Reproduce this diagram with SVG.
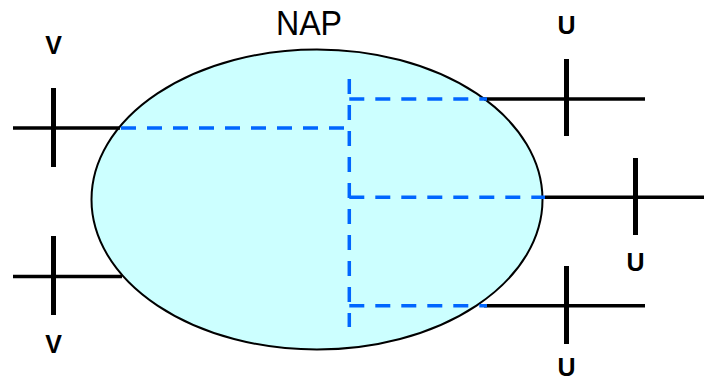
<svg xmlns="http://www.w3.org/2000/svg" width="704" height="379" viewBox="0 0 704 379">
<style>
.lbl{font-family:"Liberation Sans",Arial,sans-serif;font-weight:bold;font-size:25px;fill:#000;text-anchor:middle}
.h{stroke:#000;stroke-width:3.5;fill:none}
.v{stroke:#000;stroke-width:5;fill:none}
.d{stroke:#0066FF;stroke-width:3.5;fill:none;stroke-dasharray:15 11}
</style>
<rect width="704" height="379" fill="#fff"/>
<g id="nap">
<ellipse cx="317" cy="199.5" rx="225.5" ry="150" fill="#CCFFFF" stroke="#000" stroke-width="2"/>
<text x="309" y="35.5" font-family="Liberation Sans,Arial,sans-serif" font-size="35" text-anchor="middle" transform="translate(309 35.5) scale(0.92 1) translate(-309 -35.5)">NAP</text>
</g>
<g id="v1">
<line class="h" x1="13" y1="128" x2="120" y2="128"/>
<line class="v" x1="53.5" y1="88" x2="53.5" y2="167"/>
<text class="lbl" x="53.5" y="54">V</text>
</g>
<g id="v2">
<line class="h" x1="13" y1="276.5" x2="122" y2="276.5"/>
<line class="v" x1="53.5" y1="236" x2="53.5" y2="315"/>
<text class="lbl" x="53.5" y="352.5">V</text>
</g>
<g id="u1">
<line class="h" x1="484" y1="99" x2="645" y2="99"/>
<line class="v" x1="566.5" y1="59" x2="566.5" y2="136"/>
<text class="lbl" x="566.5" y="34">U</text>
</g>
<g id="u2">
<line class="h" x1="545" y1="197.3" x2="704" y2="197.3"/>
<line class="v" x1="635.5" y1="158" x2="635.5" y2="235"/>
<text class="lbl" x="635.5" y="271">U</text>
</g>
<g id="u3">
<line class="h" x1="484" y1="305.7" x2="645" y2="305.7"/>
<line class="v" x1="566.5" y1="266" x2="566.5" y2="344"/>
<text class="lbl" x="566.5" y="376">U</text>
</g>
<g id="connectors">
<line class="d" x1="121" y1="128" x2="344" y2="128"/>
<line class="d" x1="349.3" y1="79" x2="349.3" y2="327"/>
<line class="d" x1="349.3" y1="99" x2="487" y2="99"/>
<line class="d" x1="349.3" y1="197.3" x2="545" y2="197.3"/>
<line class="d" x1="349.3" y1="305.7" x2="487" y2="305.7"/>
</g>
</svg>
